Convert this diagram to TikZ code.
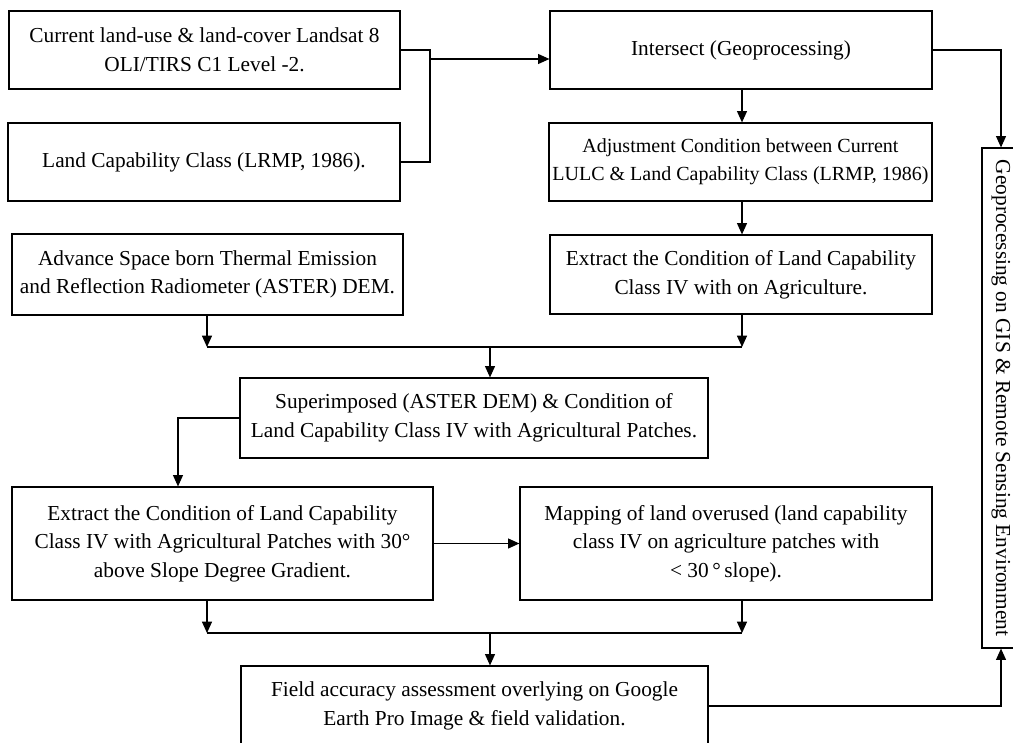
\documentclass[tikz,border=0pt]{standalone}
\usepackage{fontspec}
\setmainfont{Liberation Serif}
\usetikzlibrary{shapes,arrows.meta}

\begin{document}
\begin{tikzpicture}[x=0.75pt,y=-0.75pt]
    \tikzstyle{block}=[rectangle,draw,line width=0.9pt,align=center,inner xsep=1pt,font=\fontsize{16}{21.5}\selectfont]
    \tikzstyle{link}=[line width=0.8pt]
    \tikzstyle{arr}=[link,-{Triangle[length=8.5pt,width=7.5pt]}]
    \useasboundingbox (0,0) rectangle (1013,742);
    \node[block,minimum width=293.25pt,minimum height=58.5pt] (lulc) at (204.5,50)
      {Current land-use \& land-cover Landsat 8\\OLI/TIRS C1 Level -2.};
    \node[block,minimum width=294pt,minimum height=58.5pt] (lcc) at (204,162)
      {Land Capability Class (LRMP, 1986).};
    \node[block,minimum width=286.5pt,minimum height=58.5pt] (intersect) at (741,50)
      {Intersect (Geoprocessing)};
    \node[block,minimum width=287.25pt,minimum height=58.5pt,font=\fontsize{15}{21}\selectfont] (adjust) at (740.5,162)
      {Adjustment Condition between Current\\LULC \& Land Capability Class (LRMP, 1986)};
    \node[block,minimum width=293.25pt,minimum height=60.75pt] (aster) at (207.5,274.5)
      {Advance Space born Thermal Emission\\and Reflection Radiometer (ASTER) DEM.};
    \node[block,minimum width=286.5pt,minimum height=59.25pt] (extract) at (741,274.5)
      {Extract the Condition of Land Capability\\Class IV with on Agriculture.};
    \node[block,minimum width=351pt,minimum height=60pt] (superimp) at (474,418)
      {Superimposed (ASTER DEM) \& Condition of\\Land Capability Class IV with Agricultural Patches.};
    \node[block,minimum width=315.75pt,minimum height=84.75pt] (extractslope) at (222.5,543.5)
      {Extract the Condition of Land Capability\\Class IV with Agricultural Patches with 30°\\above Slope Degree Gradient.};
    \node[block,minimum width=309pt,minimum height=84.75pt] (mapping) at (726,543.5)
      {Mapping of land overused (land capability\\class IV on agriculture patches with\\< 30\,°\,slope).};
    \node[block,minimum width=350.25pt,minimum height=60pt] (field) at (474.5,706)
      {Field accuracy assessment overlying on Google\\Earth Pro Image \& field validation.};
    \node[block,rotate=-90,minimum width=375pt,minimum height=28.5pt] (geoproc) at (1001,398)
      {Geoprocessing on GIS \& Remote Sensing Environment};

    \coordinate (j1) at (430,59);
    \coordinate (b1) at (178,0);
    \coordinate (cl) at (207,0);
    \coordinate (cr) at (742,0);
    \coordinate (m1) at (490,347);
    \coordinate (m2) at (490,633);

    \draw[link] (lulc.east) -| (j1) |- (lcc.east);
    \draw[arr] (j1) -- (j1 -| intersect.west);
    \draw[arr] (intersect.south -| cr) -- (adjust.north -| cr);
    \draw[arr] (adjust.south -| cr) -- (extract.north -| cr);
    \draw[arr] (aster.south -| cl) -- (m1 -| cl);
    \draw[arr] (extract.south -| cr) -- (m1 -| cr);
    \draw[link] (m1 -| cl) -- (m1 -| cr);
    \draw[arr] (m1) -- (m1 |- superimp.north);
    \draw[arr] (superimp.west) -| (extractslope.north -| b1);
    \draw[arr] (extractslope.east) -- (mapping.west);
    \draw[arr] (extractslope.south -| cl) -- (m2 -| cl);
    \draw[arr] (mapping.south -| cr) -- (m2 -| cr);
    \draw[link] (m2 -| cl) -- (m2 -| cr);
    \draw[arr] (m2) -- (m2 |- field.north);
    \draw[arr] (intersect.east) -| (geoproc.west);
    \draw[arr] (field.east) -| (geoproc.east);
\end{tikzpicture}
\end{document}
